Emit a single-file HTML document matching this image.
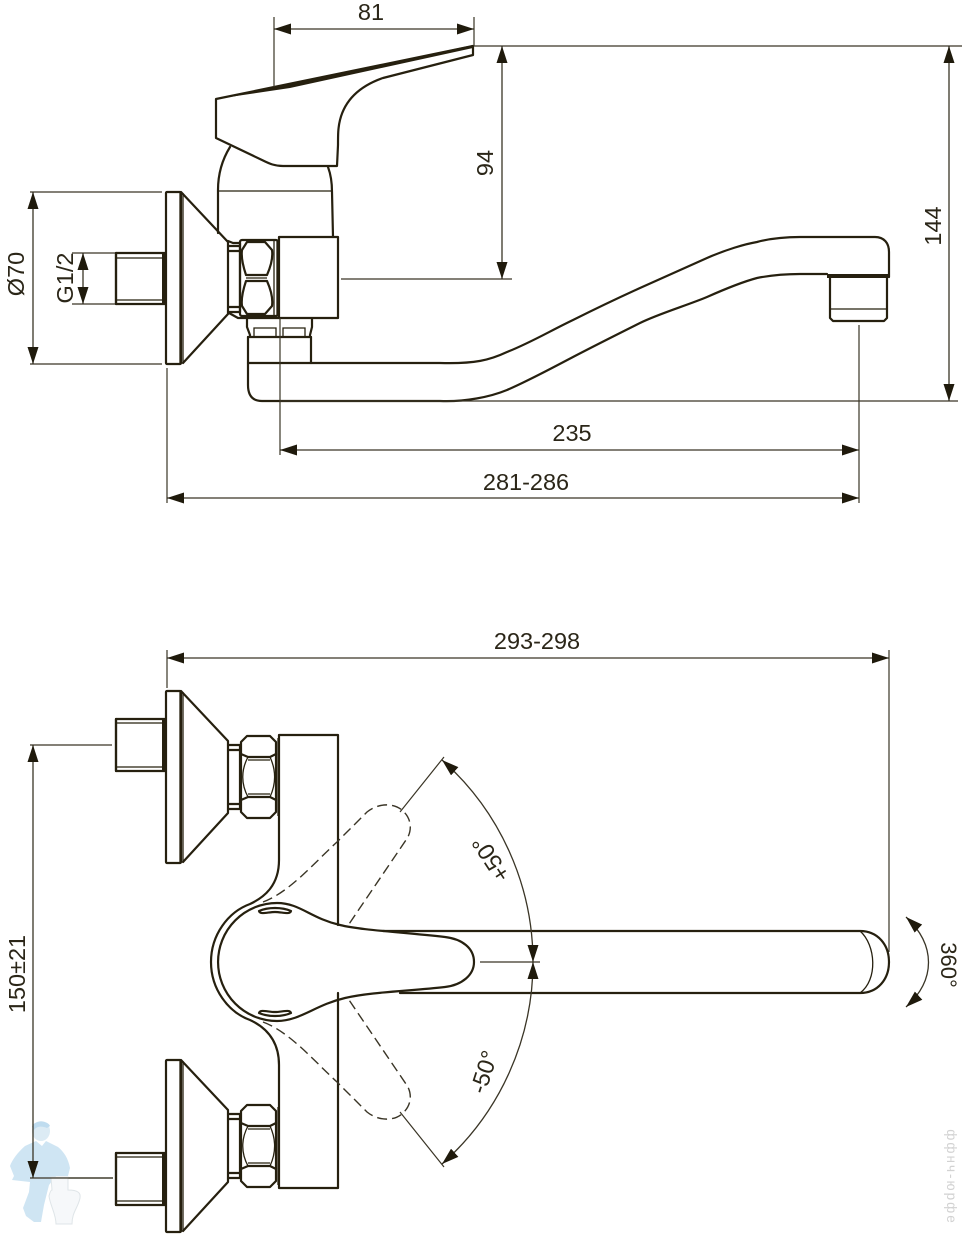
<!DOCTYPE html>
<html><head><meta charset="utf-8">
<style>
html,body{margin:0;padding:0;background:#fff;width:967px;height:1236px;overflow:hidden}
svg{display:block}
text{font-family:"Liberation Sans",sans-serif;font-size:23.5px;fill:#2b2618;text-anchor:middle}
.o{fill:none;stroke:#26200f;stroke-width:2.2;stroke-linejoin:round;stroke-linecap:round}
.t{fill:none;stroke:#26200f;stroke-width:1.3}
.d{fill:none;stroke:#3a3526;stroke-width:1.2}
.a{fill:none;stroke:#3a3526;stroke-width:1.3;marker-start:url(#ah);marker-end:url(#ah)}
.e{fill:none;stroke:#3a3526;stroke-width:1.4;stroke-dasharray:10 5}
</style></head><body>
<svg width="967" height="1236" viewBox="0 0 967 1236" xmlns="http://www.w3.org/2000/svg">
<defs>
<marker id="ah" markerUnits="userSpaceOnUse" markerWidth="17" markerHeight="11" refX="17" refY="5.5" orient="auto-start-reverse"><path d="M0,0L17,5.5L0,11z" fill="#1f1a0c"/></marker>
<g id="esc">
 <rect class="o" x="166" y="691" width="15" height="172" rx="1"/>
 <path class="t" d="M180,691V863M183,692V862"/>
 <path class="o" d="M181,691L228,741V813L183,862"/>
</g>
<g id="nut">
 <path class="o" d="M228,745H240M228,750H240M228,804H240M228,809H240M240,745V809"/>
 <path class="o" d="M247,736H270L276,742V812L270,818H247L241,812V742z"/>
 <path class="o" d="M241,754L248,757H270L276,754M241,800L248,797H270L276,800"/>
 <path class="t" d="M248,757C241,770 241,784 248,797M270,757C276,770 276,784 270,797M278,738V816M248,760H270M248,794H270"/>
</g>
</defs>

<!-- TOP VIEW -->
<!-- lever -->
<path class="o" d="M216,99L473,46V55L383,78C360,86 345,100 340,120C338,128 338,135 338,145L337,166H283C275,166 270,164 262,160L216,138z"/>
<path d="M216,99L290,84L473,45L473,48L290,88z" fill="#26200f"/>
<path class="o" d="M230,147C222,160 218,175 218,190V233M328,167C331,175 332,182 332,192L333,237"/>
<path class="t" d="M218,191H332"/>
<!-- escutcheon -->
<use href="#esc" y="-499"/>
<!-- stub -->
<path class="o" d="M165,253H116V304H165"/><path class="o" d="M116,253V304" stroke-width="3"/>
<path class="t" d="M117,258H163M117,300H163"/>
<rect x="162" y="253" width="4" height="52" fill="#26200f"/>
<!-- collar and nut top -->
<path class="o" d="M228,241L233,243H240M228,246H240M228,251H240M228,307H240M228,312H240M240,243V312"/>
<path class="o" d="M229,313L238,318H279"/>
<rect class="o" x="240" y="240" width="38" height="76" rx="2"/>
<path class="o" d="M247,242H265L272,250C273,257 271,266 267,275H246C243,266 241,257 242,250zM246,281H267C271,290 273,299 272,306L265,314H247L242,306C241,299 243,290 246,281z"/>
<path class="t" d="M274,241V315M277,241V315M246,278H267"/>
<!-- body block -->
<rect class="o" x="279" y="237" width="59" height="81"/>
<!-- under -->
<path class="o" d="M247,319V327L250,335V337M312,319V327L310,335V337M248,337H311"/>
<path class="t" d="M254,336V328H276V336M283,336V328H305V336"/>
<path class="o" d="M248,337V385C248,395 252,401 262,401H440C465,402 490,397 507,390C530,380 552,368 573,357C596,345 618,334 640,323C658,314 688,305 707,297C725,289 742,282 757,278C772,275 785,274 800,274H827"/>
<path class="o" d="M311,337V363H440C475,364 490,360 507,352C530,343 550,331 573,320C595,309 618,298 640,288C662,278 685,268 707,258C725,250 745,244 757,242C772,238 785,237 800,237H875C884,237 889,243 889,252V277"/>
<path class="o" d="M248,363H311" stroke-width="2.4"/>
<!-- aerator -->
<rect x="827" y="274" width="62" height="4" fill="#26200f"/>
<path class="o" d="M830,278V318L833,321H884L887,318V278"/>
<path class="t" d="M831,309H886"/>
<!-- dims top -->
<path class="d" d="M274,17V87M474,17V46M474,46H962M341,279H512M30,192H162M30,364H162M72,253H115M72,304H115M280,318V455M859,325V503M167,368V503M280,401H958"/>
<path class="a" d="M274,29H474"/>
<path class="a" d="M502,46V279"/>
<path class="a" d="M949,46V401"/>
<path class="a" d="M33,192V364"/>
<path class="a" d="M83,253V304"/>
<path class="a" d="M280,450H859"/>
<path class="a" d="M167,498H859"/>
<text x="371" y="20">81</text>
<text transform="translate(493,163) rotate(-90)">94</text>
<text transform="translate(941,226) rotate(-90)">144</text>
<text transform="translate(24,274) rotate(-90)">Ø70</text>
<text transform="translate(73,278) rotate(-90)">G1/2</text>
<text x="572" y="441">235</text>
<text x="526" y="490">281-286</text>

<!-- BOTTOM VIEW -->
<path class="a" d="M167,658H889"/>
<path class="d" d="M167,650V688M889,650V952"/>
<text x="537" y="649">293-298</text>

<use href="#esc"/>
<use href="#esc" y="369"/>
<use href="#nut"/>
<use href="#nut" y="369"/>
<!-- stubs -->
<g id="stub1">
<path class="o" d="M165,719H116V771H165"/><path class="o" d="M116,719V771" stroke-width="3"/>
<path class="t" d="M117,723H163M117,767H163"/>
<rect x="162" y="719" width="4" height="52" fill="#26200f"/>
</g>
<use href="#stub1" y="434"/>
<!-- body -->
<path class="o" d="M338,925V735H279V860C279,885 265,897 250,904C228,912 211,935 211,962C211,989 228,1012 250,1020C265,1027 279,1040 279,1065V1188H338V993"/>
<!-- handle -->
<path class="o" d="M277,903A59,59 0 0 0 277,1021C300,1021 315,1005 345,998C370,992 410,991 445,987C462,985 474,975 474,962C474,948 462,939 445,937C400,932 360,930 340,925C310,918 300,903 277,903z"/>
<path class="o" d="M259,911C268,907 282,907 291,911C290,915 282,912 275,912C268,912 260,915 259,911zM259,1013C268,1017 282,1017 291,1013C290,1009 282,1012 275,1012C268,1012 260,1009 259,1013z" stroke-width="1.6"/>
<!-- spout plan -->
<path class="o" d="M383,931H860C878,931 889,945 889,962C889,979 878,993 860,993H400"/>
<path class="t" d="M860,931C876,945 878,980 860,993"/>
<!-- dashed -->
<path class="e" d="M263,902C290,892 315,862 337,842L367,812C378,803 395,802 404,812C412,820 412,832 406,840L347,927"/>
<path class="e" d="M263,1022C290,1032 315,1062 337,1082L367,1112C378,1121 395,1122 404,1112C412,1104 412,1092 406,1084L347,997"/>
<path class="d" d="M400,812L444,757M400,1112L444,1167M480,962H540"/>
<path class="a" d="M442,760A270,270 0 0 1 533,962"/>
<path class="a" d="M533,962A270,270 0 0 1 442,1164"/>
<text transform="translate(491,859) rotate(-123)" y="8">+50°</text>
<text transform="translate(484,1072) rotate(-72)" y="8">-50°</text>
<!-- 360 -->
<path class="a" d="M906,917C936,945 936,980 906,1007"/>
<text transform="translate(941,965) rotate(90)" style="font-size:22px">360°</text>
<!-- 150 -->
<path class="d" d="M30,745H112M30,1178H113"/>

<!-- watermark -->
<g>
<ellipse cx="41" cy="1131" rx="9" ry="10" fill="#dcebf4"/>
<path d="M32,1127C33,1120 48,1120 50,1126L47,1128C42,1126 37,1126 34,1130z" fill="#bfdcef"/>
<path d="M36,1141L25,1146C18,1152 12,1160 10,1166L14,1176L12,1180L30,1182L29,1192L23,1208L26,1216L34,1222H41L44,1205L49,1185L56,1176L68,1176L70,1168C68,1158 64,1152 58,1147L46,1141L42,1146z" fill="#cfe5f3"/>
<path d="M51,1177H68V1190C78,1190 81,1193 80,1198C78,1208 72,1212 72,1224H56C56,1214 50,1205 49,1196C50,1192 51,1190 52,1190z" fill="#f6f8fa" stroke="#dfe5e8" stroke-width="1"/>
</g>
<path class="a" d="M33,745V1178"/>
<path class="d" d="M113,1178H30"/>
<text transform="translate(947,1177) rotate(90)" style="font-size:13.5px;fill:#d2d2d2;letter-spacing:2px">ффнч-юрфе</text>
<text transform="translate(25,974) rotate(-90)">150±21</text>
</svg>
</body></html>
